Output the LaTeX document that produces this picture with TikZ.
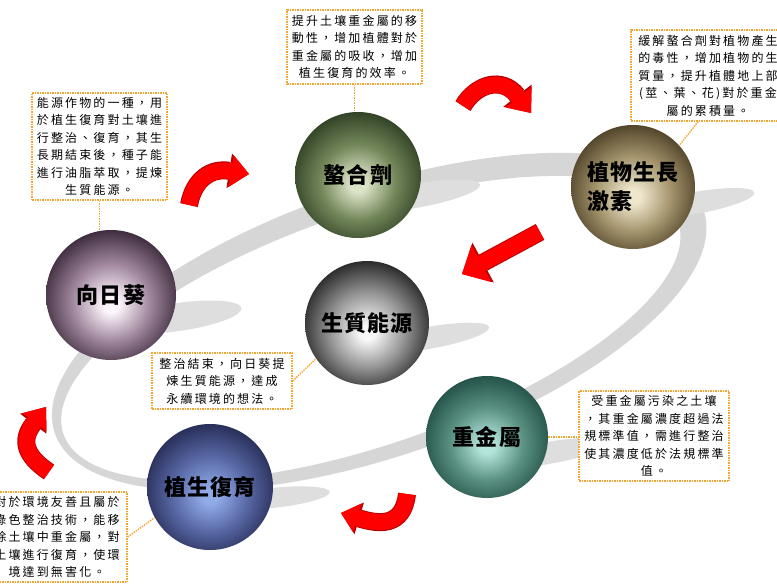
\documentclass[tikz,border=0pt]{standalone}
\usepackage{fontspec}
\setmainfont{Noto Sans CJK TC}
\newfontfamily\boxfont{Noto Sans CJK TC}[LetterSpace=18]
\newfontfamily\ballfont{Noto Sans CJK TC}[LetterSpace=6]
\usetikzlibrary{arrows.meta}

\definecolor{chelIn}{RGB}{220,228,200}
\definecolor{chelMid}{RGB}{115,135,90}
\definecolor{chelOut}{RGB}{50,66,38}
\definecolor{plantIn}{RGB}{238,230,205}
\definecolor{plantMid}{RGB}{165,150,110}
\definecolor{plantOut}{RGB}{82,68,42}
\definecolor{sunIn}{RGB}{252,245,252}
\definecolor{sunMid}{RGB}{160,135,158}
\definecolor{sunOut}{RGB}{62,44,62}
\definecolor{bioIn}{RGB}{248,248,248}
\definecolor{bioMid}{RGB}{150,150,150}
\definecolor{bioOut}{RGB}{42,42,42}
\definecolor{hmIn}{RGB}{180,228,218}
\definecolor{hmMid}{RGB}{90,145,130}
\definecolor{hmOut}{RGB}{36,82,72}
\definecolor{regIn}{RGB}{145,170,232}
\definecolor{regMid}{RGB}{88,104,165}
\definecolor{regOut}{RGB}{40,46,88}
\definecolor{ringgray}{RGB}{214,214,214}
\definecolor{tailgray}{RGB}{222,222,222}
\definecolor{boxorange}{RGB}{245,165,45}
\definecolor{arrowred}{RGB}{255,0,0}
\definecolor{arrowedge}{RGB}{185,0,0}

\colorlet{sphin}{white}
\colorlet{sphmid}{gray}
\colorlet{sphout}{black}
\pgfdeclareradialshading[sphin,sphmid,sphout]{sph}{\pgfpoint{0bp}{-4bp}}{color(0bp)=(sphin); color(3bp)=(sphin); color(15bp)=(sphmid); color(27bp)=(sphout); color(50bp)=(sphout)}

\tikzset{
  sphere/.style n args={3}{circle, inner sep=0pt, minimum size=126pt, shade, shading=sph,
    /utils/exec={\colorlet{sphin}{#1}\colorlet{sphmid}{#2}\colorlet{sphout}{#3}},
    font=\ballfont\bfseries\fontsize{22}{29}\selectfont, text=black},
  notebox/.style={draw=boxorange, line width=1.3pt, dash pattern=on 1.5pt off 1pt, fill=white,
    inner sep=0pt, align=center, font=\boxfont\fontsize{12}{17.5}\selectfont},
  conn/.style={draw=boxorange, line width=1.3pt, dash pattern=on 1.5pt off 1pt},
  redarrow/.style 2 args={draw=arrowred, line width=16pt,
    -{Triangle[length=#2, width=#1, line width=0pt]},
    preaction={draw=arrowedge, line width=18pt, -{Triangle[length=#2+2pt, width=#1+3pt, line width=0pt]}}},
}

\begin{document}
\begin{tikzpicture}[x=1pt,y=-1pt]
\useasboundingbox (0,0) rectangle (777,584);
\fill[white] (0,0) rectangle (777,584);
\begin{scope}
\clip (0,0) rectangle (777,584);

% orbit ring
\fill[ringgray, even odd rule]
  (379.2,321.7) ellipse[x radius=343pt, y radius=134pt, rotate=19]
  (370.8,328.3) ellipse[x radius=325pt, y radius=116pt, rotate=19];

% shadow tails
\fill[tailgray] (178,317) ellipse[x radius=64pt, y radius=14pt, rotate=8];
\fill[tailgray] (415,196) ellipse[x radius=66pt, y radius=12pt, rotate=10];
\fill[tailgray] (428,338) ellipse[x radius=62pt, y radius=11pt, rotate=10];
\fill[tailgray] (548,453) ellipse[x radius=62pt, y radius=11pt, rotate=10];
\fill[tailgray] (272,498) ellipse[x radius=58pt, y radius=10pt, rotate=6];
\fill[tailgray] (695,203) ellipse[x radius=60pt, y radius=11pt, rotate=10];

% spheres
\node[sphere={chelIn}{chelMid}{chelOut}] (chel) at (358,175) {螯合劑};
\node[sphere={plantIn}{plantMid}{plantOut}, minimum size=124pt, align=left] (plant) at (633,187) {植物生長\\激素};
\node[sphere={sunIn}{sunMid}{sunOut}, minimum size=130pt] (sun) at (111,295) {向日葵};
\node[sphere={bioIn}{bioMid}{bioOut}, minimum size=124pt] (bio) at (367,323) {生質能源};
\node[sphere={hmIn}{hmMid}{hmOut}, minimum size=122pt] (hm) at (487,437) {重金屬};
\node[sphere={regIn}{regMid}{regOut}] (reg) at (210,487) {植生復育};

% note boxes
\node[notebox, minimum width=135pt, minimum height=74pt] (tb) at (354.5,47)
  {提升土壤重金屬的移\\動性，增加植體對於\\重金屬的吸收，增加\\植生復育的效率。};
\node[notebox, minimum width=154pt, minimum height=91pt] (trb) at (708,75.5)
  {緩解螯合劑對植物產生\\的毒性，增加植物的生\\質量，提升植體地上部\\(莖、葉、花)對於重金\\屬的累積量。};
\node[notebox, minimum width=135pt, minimum height=107pt] (lb) at (99.5,146.5)
  {能源作物的一種，用\\於植生復育對土壤進\\行整治、復育，其生\\長期結束後，種子能\\進行油脂萃取，提煉\\生質能源。};
\node[notebox, minimum width=140pt, minimum height=56pt] (mb) at (222,381)
  {整治結束，向日葵提\\煉生質能源，達成\\永續環境的想法。};
\node[notebox, minimum width=150pt, minimum height=90pt] (rb) at (654,436)
  {受重金屬污染之土壤\\，其重金屬濃度超過法\\規標準值，需進行整治\\使其濃度低於法規標準\\值。};
\node[notebox, minimum width=140pt, minimum height=90pt] (blb) at (57,537)
  {對於環境友善且屬於\\綠色整治技術，能移\\除土壤中重金屬，對\\土壤進行復育，使環\\境達到無害化。};

% connectors
\draw[conn] (tb.south) -- (tb.south |- chel.north);
\draw[conn] (trb.258) -- (plant.42);
\draw[conn] (lb.south) -- (lb.south |- sun.north);
\draw[conn] (mb.east) -- (bio.215);
\draw[conn] (hm.east) -- (rb.west |- hm.east);
\draw[conn] (blb.east) -- (reg.209);

% red arrows
\coordinate (a1s) at (189,205); \coordinate (a1e) at (249,174);
\coordinate (a2s) at (463,106); \coordinate (a2e) at (531,113);
\coordinate (a3s) at (540,232); \coordinate (a3e) at (462,274);
\coordinate (a4s) at (407,494); \coordinate (a4e) at (341,513);
\coordinate (a5s) at (49,472);  \coordinate (a5e) at (46,407);
\draw[redarrow={32pt}{18pt}] (a1s) .. controls (194,178) and (212,168) .. (a1e);
\draw[redarrow={33pt}{20pt}] (a2s) .. controls (476,84) and (502,76) .. (a2e);
\draw[redarrow={42pt}{22pt}] (a3s) -- (a3e);
\draw[redarrow={30pt}{17pt}] (a4s) .. controls (403,528) and (378,524) .. (a4e);
\draw[redarrow={30pt}{19pt}] (a5s) .. controls (24,455) and (21,440) .. (a5e);
\end{scope}
\end{tikzpicture}
\end{document}
